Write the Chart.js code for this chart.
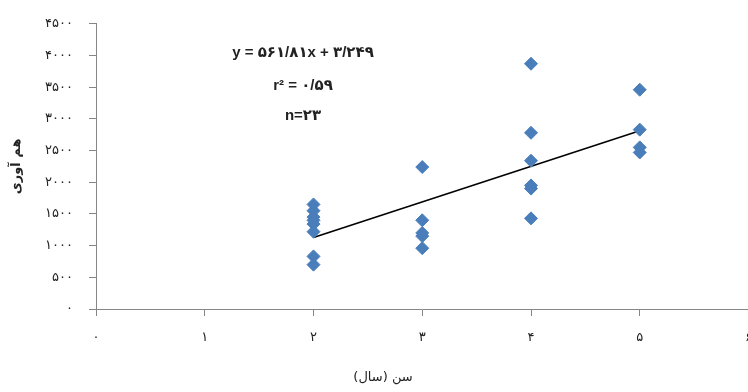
<!DOCTYPE html>
<html>
<head>
<meta charset="utf-8">
<script src="https://cdn.jsdelivr.net/npm/chart.js@4/dist/chart.umd.min.js"></script>
<style>
  html, body { margin: 0; padding: 0; background: #fff; overflow: hidden; }
  canvas { display: block; }
</style>
</head>
<body>
<canvas id="c" width="766" height="392"></canvas>
<script>
// Tree age (years) and yield of each sampled tree
const ages   = [2, 2, 2, 2, 2, 2, 2, 2,  3, 3, 3, 3, 3,  4, 4, 4, 4, 4, 4,  5, 5, 5, 5];
const yields = [1650, 1550, 1450, 1400, 1340, 1220, 830, 700,
                2240, 1400, 1200, 1150, 960,
                3870, 2780, 2340, 1950, 1900, 1430,
                3460, 2830, 2550, 2470];

// Linear fit as stated in the equation label: y = 561.81x + 3.249
const fitSlope = 561.81;
const fitIntercept = 3.249;
const fitRange = [2, 5];

// Persian tick labels
const xTickLabels = ['۰', '۱', '۲', '۳', '۴', '۵', '۶'];
const yTickLabels = ['۰', '۵۰۰', '۱۰۰۰', '۱۵۰۰', '۲۰۰۰', '۲۵۰۰', '۳۰۰۰', '۳۵۰۰', '۴۰۰۰', '۴۵۰۰'];

// Text shown on the chart
const equationLines = ['y = ۵۶۱/۸۱x + ۳/۲۴۹', 'r² = ۰/۵۹', 'n=۲۳'];
const xTitle = 'سن (سال)';
const yTitle = 'هم آوری';

const points = ages.map((a, i) => ({ x: a, y: yields[i] }));
const fitLine = fitRange.map(v => ({ x: v, y: fitSlope * v + fitIntercept }));

const axisColor = '#868686';
const textColor = '#222';
const persianFont = "'DejaVu Sans', sans-serif";

const textPlugin = {
  id: 'chartText',
  afterDraw(chart) {
    const { ctx, chartArea: a } = chart;
    ctx.save();
    ctx.fillStyle = textColor;
    ctx.textAlign = 'center';
    ctx.textBaseline = 'middle';
    ctx.font = "bold 15px 'Liberation Sans', 'DejaVu Sans', sans-serif";
    const cx = a.left + 207;
    const rows = [a.top + 29, a.top + 62, a.top + 92];
    equationLines.forEach((t, i) => ctx.fillText(t, cx, rows[i]));

    // horizontal axis title, right-to-left
    ctx.direction = 'rtl';
    ctx.font = '13px ' + persianFont;
    ctx.fillText(xTitle, a.left + 287, a.bottom + 69);
    ctx.restore();
  }
};

new Chart(document.getElementById('c'), {
  type: 'scatter',
  data: {
    datasets: [
      {
        label: 'yield',
        data: points,
        pointStyle: 'rectRot',
        pointRadius: 6.5,
        pointHoverRadius: 6.5,
        backgroundColor: '#4a7ebb',
        borderColor: '#4a7ebb',
        borderWidth: 1
      },
      {
        label: 'fit',
        data: fitLine,
        showLine: true,
        borderColor: '#000',
        borderWidth: 1.6,
        pointRadius: 0,
        pointHoverRadius: 0
      }
    ]
  },
  options: {
    responsive: false,
    animation: false,
    events: [],
    layout: { padding: { left: 0, right: 2, top: 20, bottom: 0 } },
    plugins: {
      legend: { display: false },
      tooltip: { enabled: false }
    },
    scales: {
      x: {
        type: 'linear',
        min: 0,
        max: 6,
        afterFit(scale) { scale.height = 83; },
        ticks: {
          stepSize: 1,
          padding: 14,
          color: textColor,
          font: { family: persianFont, size: 13 },
          maxRotation: 0,
          callback: v => xTickLabels[v]
        },
        grid: { drawOnChartArea: false, drawTicks: true, tickLength: 7, color: axisColor },
        border: { color: axisColor, width: 1 }
      },
      y: {
        type: 'linear',
        min: 0,
        max: 4500,
        afterFit(scale) { scale.width = 96; },
        ticks: {
          stepSize: 500,
          padding: 16,
          color: textColor,
          font: { family: persianFont, size: 13 },
          callback: v => yTickLabels[v / 500]
        },
        grid: { drawOnChartArea: false, drawTicks: true, tickLength: 7, color: axisColor },
        border: { color: axisColor, width: 1 },
        title: {
          display: true,
          text: yTitle,
          color: textColor,
          font: { family: persianFont, size: 13, weight: 'bold' },
          padding: { top: 9, bottom: 0 }
        }
      }
    }
  },
  plugins: [textPlugin]
});
</script>
</body>
</html>
